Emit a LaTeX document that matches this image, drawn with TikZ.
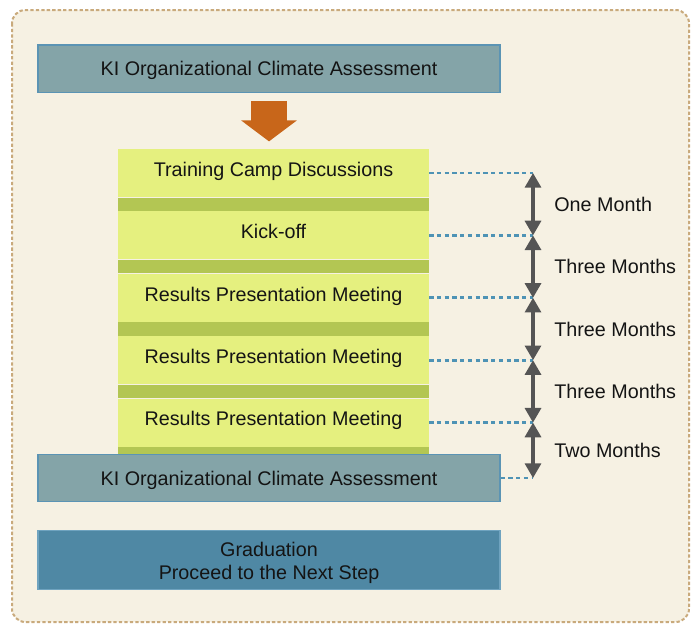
\documentclass[tikz,border=0pt]{standalone}
\usepackage{fontspec}
\setmainfont{Liberation Sans}
\usetikzlibrary{arrows.meta,positioning,calc}
\definecolor{panelbg}{HTML}{F6F1E3}
\definecolor{panelrim}{HTML}{C9AA7C}
\definecolor{assessbg}{HTML}{84A4A8}
\definecolor{assessrim}{HTML}{5B94B4}
\definecolor{gradbg}{HTML}{4F88A4}
\definecolor{gradrim}{HTML}{6FA3BF}
\definecolor{meetbg}{HTML}{E5F07F}
\definecolor{meetband}{HTML}{B3C653}
\definecolor{flowcol}{HTML}{C8661A}
\definecolor{guidecol}{HTML}{4E93B5}
\definecolor{spancol}{HTML}{555555}
\newcommand{\labelfont}{\fontsize{14.8}{17.5}\selectfont}
\tikzset{
     panel/.style = {draw=panelrim, fill=panelbg, line width=1.5pt,
                     dash pattern=on 2.5pt off 1.6pt, rounded corners=10pt},
      wide/.style = {draw, line width=1pt, minimum width=346.5pt,
                     align=center, font=\labelfont, text=black!92},
    assess/.style = {wide, fill=assessbg, draw=assessrim, minimum height=35.5pt,
                     text height=14pt, text depth=3pt},
      grad/.style = {wide, fill=gradbg, draw=gradrim, minimum height=44.5pt},
   meeting/.style = {fill=meetbg, minimum width=233.25pt, minimum height=36pt,
                     inner sep=0pt, text height=11pt, text depth=6pt,
                     font=\labelfont, text=black!92, alias=tmp},
      band/.style = {fill=meetband, minimum width=233.25pt, minimum height=10pt,
                     inner sep=0pt, alias=tmp},
      flow/.style = {draw=flowcol, line width=27pt,
                     -{Triangle[length=15.75pt,width=41pt]}},
     guide/.style = {draw=guidecol, line width=2.1pt, dash pattern=on 3.2pt off 2.6pt},
      span/.style = {draw=spancol, line width=2.4pt,
                     {Triangle[length=11pt,width=12pt]}-{Triangle[length=11pt,width=12pt]}},
       gap/.style = {right, xshift=11.5pt, font=\labelfont, text=black!92}
}
\begin{document}
\begin{tikzpicture}[x=1pt,y=1pt]
 \useasboundingbox (0,0) rectangle (518.25,-468.75);
 \draw[panel] (9,-7.5) rectangle (516.75,-466.5);
 \node[assess] (ki0) at (201.75,-51.4) {KI Organizational Climate Assessment};
 % meetings stacked top to bottom, a darker band under each
 \path
node[meeting] (m1) at (205.1,-129.75) {Training Camp Discussions}
node[band,below=0pt of tmp] (b1) {}
node[meeting,below=0pt of tmp] (m2) {Kick-off}
node[band,below=0pt of tmp] (b2) {}
node[meeting,below=0pt of tmp] (m3) {Results Presentation Meeting}
node[band,below=0pt of tmp] (b3) {}
node[meeting,below=0pt of tmp] (m4) {Results Presentation Meeting}
node[band,below=0pt of tmp] (b4) {}
node[meeting,below=0pt of tmp] (m5) {Results Presentation Meeting}
node[band,below=0pt of tmp] (b5) {};
 \node[assess] (ki1) at (201.75,-358.5) {KI Organizational Climate Assessment};
 \node[grad] (grad) at (201.75,-420) {\rule{0pt}{15pt}Graduation\\Proceed to the Next Step};
 \draw[flow] ([yshift=-6pt]ki0.south) -- ([yshift=5.5pt]ki0.south |- m1.north);
 % time spans on the right
 \coordinate (spanx) at (399.75,0);
 \foreach \i in {1,...,5} {
   \coordinate (t\i) at (m\i.east -| spanx);
   \draw[guide] (m\i.east) -- (t\i);
 }
 \coordinate (t6) at (ki1.east -| spanx);
 \draw[guide] (ki1.east) -- (t6);
 \foreach \i/\j/\len in {1/2/One Month, 2/3/Three Months, 3/4/Three Months,
                         4/5/Three Months, 5/6/Two Months}
   \draw[span] (t\i) -- node[gap]{\len} (t\j);
\end{tikzpicture}
\end{document}
